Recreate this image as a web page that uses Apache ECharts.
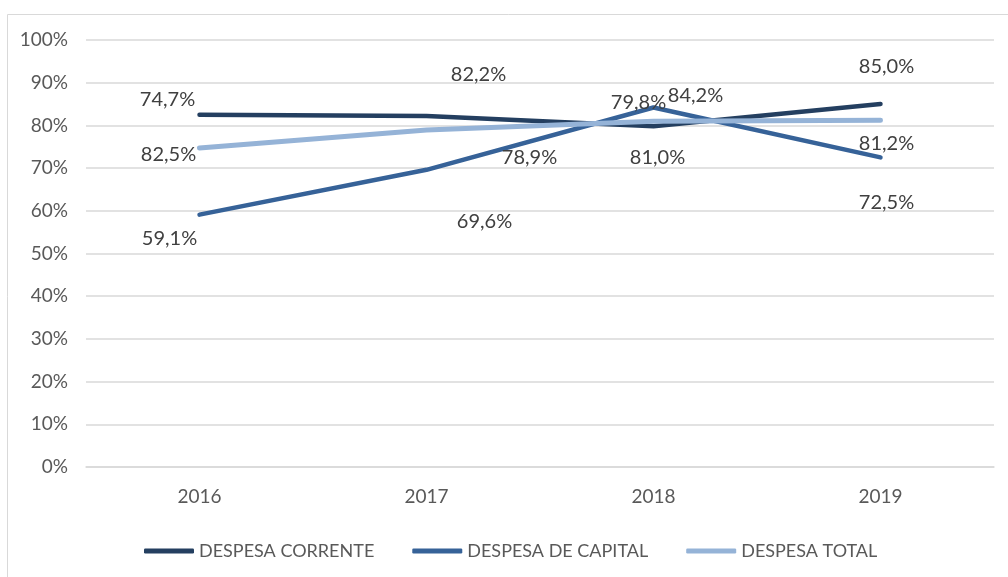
<!DOCTYPE html>
<html>
<head>
<meta charset="utf-8">
<script src="https://cdn.jsdelivr.net/npm/echarts@6/dist/echarts.min.js"></script>
<style>
  html, body { margin: 0; padding: 0; background: #fff; }
  #chart { width: 1008px; height: 577px; }
</style>
</head>
<body>
<div id="chart"></div>
<script>
var anos = ['2016', '2017', '2018', '2019'];
var despesaCorrente = [82.5, 82.2, 79.8, 85.0];
var despesaCapital = [59.1, 69.6, 84.2, 72.5];
var despesaTotal = [74.7, 78.9, 81.0, 81.2];

// deslocamento dos rótulos (px), como no gráfico original
var offCorrente = [[-31, 40], [52, -41], [-15, -24], [6, -38]];
var offCapital = [[-30, 24], [58, 52], [42, -12], [6, 45]];
var offTotal = [[-32, -48], [103, 27], [4, 36], [6, 23]];

var fonte = 'Lato, "Liberation Sans", sans-serif';

function pontos(valores, offs) {
    return valores.map(function (v, i) {
        return { value: v, label: { offset: offs[i] } };
    });
}

function fmt(p) {
    return p.value.toFixed(1).replace('.', ',') + '%';
}

function serie(nome, valores, offs, cor, largura) {
    return {
        name: nome,
        type: 'line',
        data: pontos(valores, offs),
        symbol: 'circle',
        symbolSize: 1,
        itemStyle: { color: cor },
        lineStyle: { color: cor, width: largura, cap: 'round', join: 'round' },
        label: {
            show: true,
            position: 'inside',
            formatter: fmt,
            color: '#404040',
            fontFamily: fonte,
            fontSize: 20
        },
        emphasis: { disabled: true }
    };
}

var chart = echarts.init(document.getElementById('chart'));

var option = {
    animation: false,
    graphic: [{
        type: 'rect',
        shape: { x: 7.5, y: 14.5, width: 1010, height: 600 },
        style: { fill: 'none', stroke: '#d9d9d9', lineWidth: 1 },
        silent: true
    }],
    grid: { left: 86, right: 14, top: 40, bottom: 110 },
    legend: {
        left: 139,
        top: 537,
        itemWidth: 50,
        itemHeight: 5,
        itemGap: 38,
        icon: 'roundRect',
        textStyle: { color: '#595959', fontFamily: fonte, fontSize: 18 },
        data: ['DESPESA CORRENTE', 'DESPESA DE CAPITAL', 'DESPESA TOTAL']
    },
    xAxis: {
        type: 'category',
        data: anos,
        boundaryGap: true,
        axisLine: { lineStyle: { color: '#d9d9d9', width: 1.5 } },
        axisTick: { show: false },
        axisLabel: { color: '#595959', fontFamily: fonte, fontSize: 19, margin: 20 }
    },
    yAxis: {
        type: 'value',
        min: 0,
        max: 100,
        interval: 10,
        axisLine: { show: false },
        axisTick: { show: false },
        splitLine: { lineStyle: { color: '#d9d9d9', width: 1.5 } },
        axisLabel: { color: '#595959', fontFamily: fonte, fontSize: 19, margin: 18, formatter: '{value}%' }
    },
    series: [
        serie('DESPESA CORRENTE', despesaCorrente, offCorrente, '#243f60', 4.5),
        serie('DESPESA DE CAPITAL', despesaCapital, offCapital, '#366298', 4.5),
        serie('DESPESA TOTAL', despesaTotal, offTotal, '#95b3d7', 5)
    ]
};

chart.setOption(option);
</script>
</body>
</html>
